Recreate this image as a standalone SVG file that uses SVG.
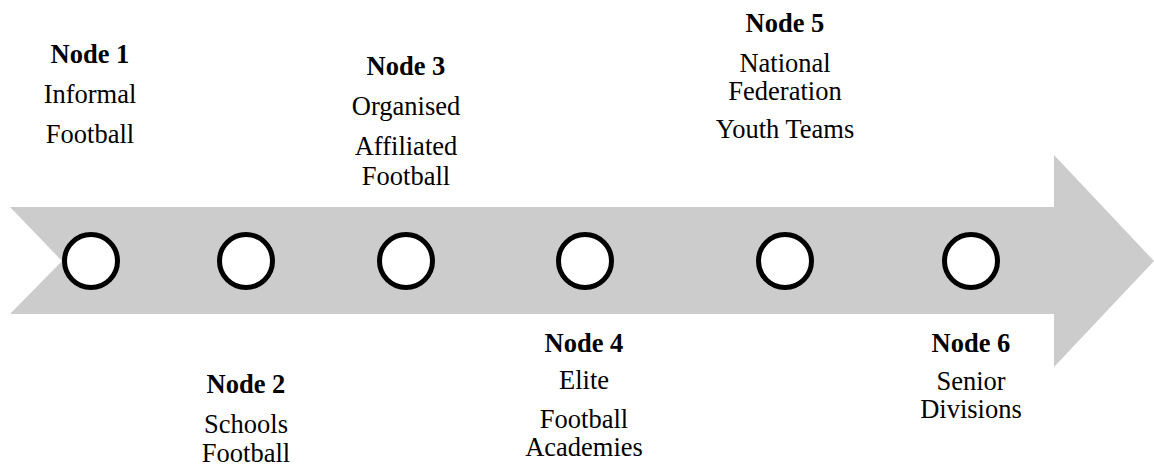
<svg xmlns="http://www.w3.org/2000/svg" width="1154" height="466" viewBox="0 0 1154 466">
<style>
text{font-family:"Times New Roman","Liberation Serif",Times,serif;font-size:26.5px;fill:#000;text-anchor:middle}
.t{font-weight:bold}
.dot{fill:#fff;stroke:#000;stroke-width:5}
</style>
<rect width="1154" height="466" fill="#fff"/>
<g id="connectors">
<polygon points="10,207 1054,207 1054,155 1154,261 1054,367 1054,314 10,314 62,261" fill="#cccccc"/>
</g>
<g id="node1">
<circle class="dot" cx="91" cy="261" r="26.5"/>
<text class="t" x="90" y="63">Node 1</text>
<text x="90" y="103">Informal</text>
<text x="90" y="143">Football</text>
</g>
<g id="node2">
<circle class="dot" cx="246" cy="261" r="26.5"/>
<text class="t" x="246" y="393">Node 2</text>
<text x="246" y="433">Schools</text>
<text x="246" y="462">Football</text>
</g>
<g id="node3">
<circle class="dot" cx="406" cy="261" r="26.5"/>
<text class="t" x="406" y="75">Node 3</text>
<text x="406" y="115">Organised</text>
<text x="406" y="155">Affiliated</text>
<text x="406" y="185">Football</text>
</g>
<g id="node4">
<circle class="dot" cx="585" cy="261" r="26.5"/>
<text class="t" x="584" y="352">Node 4</text>
<text x="584" y="389">Elite</text>
<text x="584" y="428">Football</text>
<text x="584" y="456">Academies</text>
</g>
<g id="node5">
<circle class="dot" cx="785" cy="261" r="26.5"/>
<text class="t" x="785" y="32">Node 5</text>
<text x="785" y="72">National</text>
<text x="785" y="100">Federation</text>
<text x="785" y="138">Youth Teams</text>
</g>
<g id="node6">
<circle class="dot" cx="971" cy="261" r="26.5"/>
<text class="t" x="971" y="352">Node 6</text>
<text x="971" y="390">Senior</text>
<text x="971" y="418">Divisions</text>
</g>
</svg>
